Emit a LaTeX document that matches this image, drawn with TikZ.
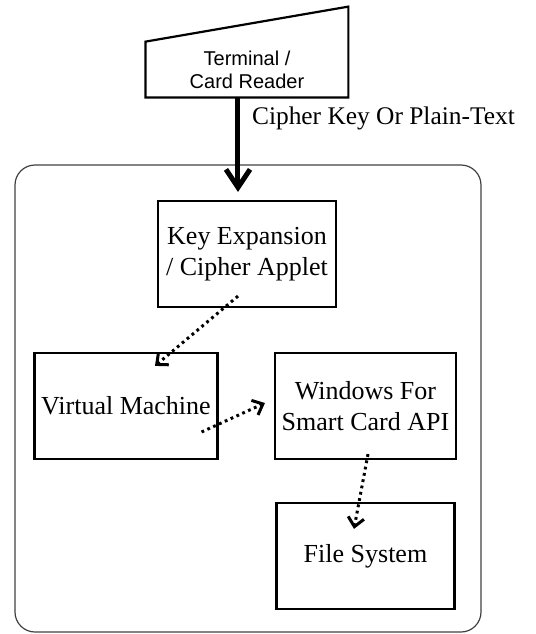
\documentclass[tikz,border=0pt]{standalone}
\usepackage{fontspec}
\setmainfont{Liberation Serif}
\newfontfamily\termfont{Liberation Sans}
\usetikzlibrary{arrows.meta}

\begin{document}
\begin{tikzpicture}[x=0.5pt,y=-0.5pt,
    block/.style={draw,line width=1.1pt,minimum width=89pt,minimum height=53pt,align=center,font=\fontsize{13}{15.5}\selectfont},
    dots/.style={line width=1.5pt,dash pattern=on 1.4pt off 1.8pt,-{Straight Barb[length=4.5pt,width=8pt]}}]
            \useasboundingbox (0,0) rectangle (536,634);
            \node[draw=black!75,line width=0.6pt,rounded corners=10pt,minimum width=233pt,minimum height=233.5pt] (card) at (248,398.5) {};
            \node[minimum width=101pt,minimum height=27.5pt,inner sep=0pt,align=center,font=\termfont\fontsize{10}{11.5}\selectfont] (term) at (247,69.5) {Terminal /\\Card Reader};
            \draw[line width=1.1pt] (term.south west) -- (term.north west) -- ([yshift=17.5pt]term.north east) -- (term.south east) -- cycle;
            \node[block] (key) at (247,254) {Key Expansion\\/ Cipher Applet};
            \node[block] (vm) at (126,406) {Virtual Machine};
            \node[block] (win) at (365.5,406) {Windows For\\Smart Card API};
            \node[block] (fs) at (365.5,556) {File System};
            \draw[line width=2.5pt,-{Straight Barb[length=9pt,width=12pt]}] ([xshift=-4.5pt]term.south) -- ([xshift=-4.5pt,yshift=4pt]key.north);
            \node[anchor=west,font=\fontsize{12.7}{15}\selectfont] (cipher) at (245,118) {Cipher Key Or Plain-Text};
            \draw[dots] ([xshift=-4.5pt,yshift=6pt]key.south) -- ([xshift=14.5pt,yshift=-7pt]vm.north);
            \draw[dots] ([xshift=-8.5pt,yshift=-13pt]vm.east) -- ([xshift=-4.5pt,yshift=1.5pt]win.west);
            \draw[dots] ([xshift=1.25pt,yshift=3pt]win.south) -- ([xshift=-5.75pt,yshift=-13.5pt]fs.north);
\end{tikzpicture}
\end{document}
